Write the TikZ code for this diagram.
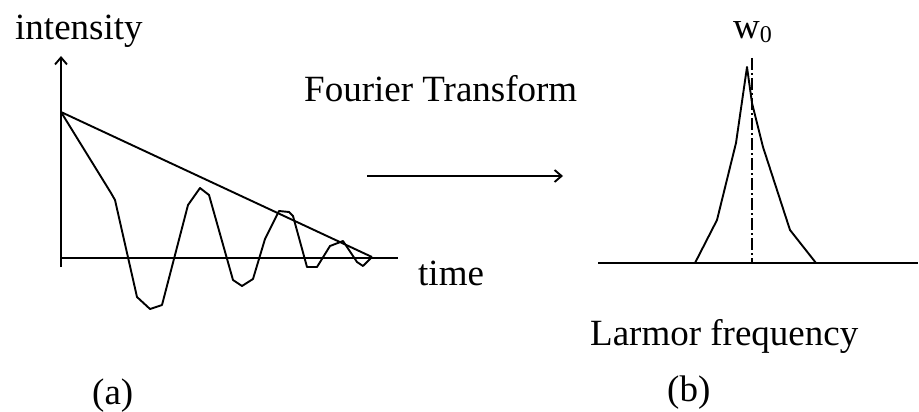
\documentclass[tikz,border=0pt]{standalone}
\usepackage{fontspec}
\setmainfont{Liberation Serif}
\usetikzlibrary{arrows.meta}
\begin{document}
\begin{tikzpicture}[x=1pt,y=-1pt,
  curve/.style={line width=1.9pt,line join=round},
  lbl/.style={anchor=base west,inner sep=0pt,font=\fontsize{37}{40}\selectfont},
  barb/.style={-{Straight Barb[length=7pt,width=12pt,line width=1.9pt]}}]
\useasboundingbox (0,0) rectangle (919,412);
% (a) panel
\coordinate (ybot) at (61,267);
\coordinate (ytop) at (61,56);
\draw[curve,barb] (ybot) -- (ytop);
\coordinate (xl) at (61,258);
\coordinate (xr) at (398,258);
\draw[curve] (xl) -- (xr);
\coordinate (start) at (61,112);
\coordinate (tend) at (372,257);
\draw[curve] (start) -- (tend);
\draw[curve] (start) -- (111,193) -- (115,200) -- (137,297) -- (150,309) -- (162,305)
  -- (188,205) -- (200,188) -- (209,195) -- (233,280) -- (242,286) -- (253,279)
  -- (265,239) -- (279,211) -- (289,212) -- (293,216) -- (307,267) -- (317,267)
  -- (330,246) -- (343,241) -- (357,262) -- (363,266) -- (tend);
\node[lbl] (intensity) at (15,40) {intensity};
\node[lbl] (time) at (418,285) {time};
\node[lbl] (la) at (92,404) {(a)};
% arrow
\coordinate (ftl) at (367,176);
\coordinate (ftr) at (563,176);
\draw[curve,barb] (ftl) -- (ftr);
\node[lbl] (ft) at (304,102) {Fourier Transform};
% (b) panel
\coordinate (bl) at (598,263);
\coordinate (br) at (918,263);
\draw[curve] (bl) -- (br);
\draw[curve] (695,263) -- (717,220) -- (736,143) -- (747,67) -- (752,103)
  -- (763,147) -- (790,230) -- (816,263);
\coordinate (dtop) at (752,58);
\coordinate (dbot) at (752,263);
\draw[line width=1.5pt,dash pattern=on 12pt off 3pt on 2pt off 3pt] (dtop) -- (dbot);
\node[lbl] (w0) at (733,39) {w\raisebox{-0.2ex}{\fontsize{24}{26}\selectfont 0}};
\node[lbl] (lf) at (590,345) {Larmor frequency};
\node[lbl] (lb) at (667,401) {(b)};
\end{tikzpicture}
\end{document}
